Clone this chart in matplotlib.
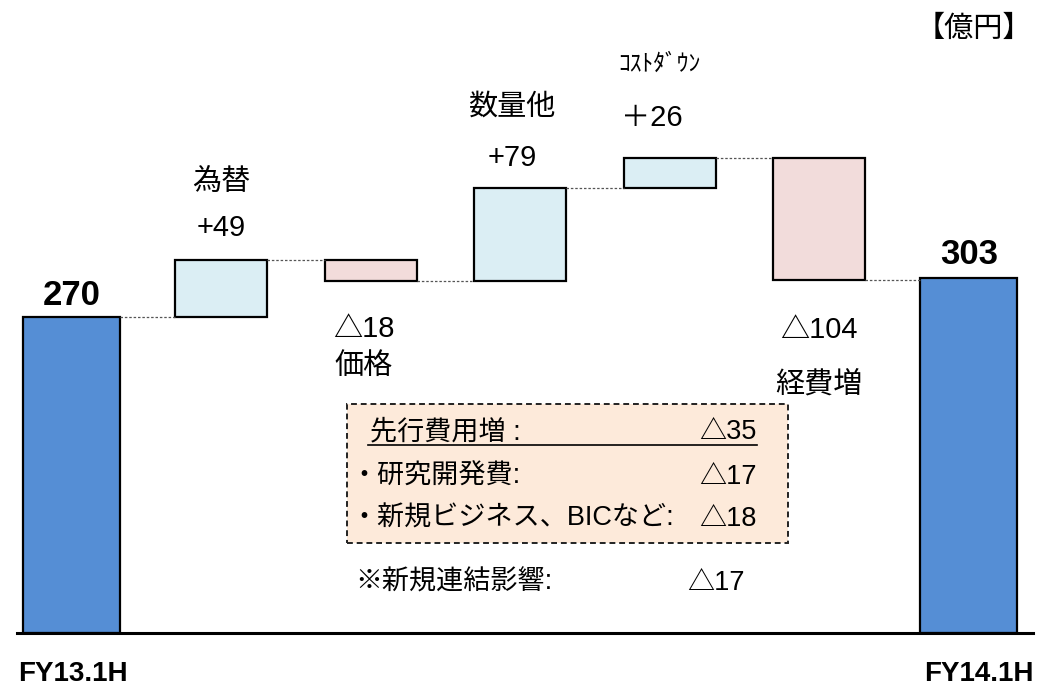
import matplotlib.pyplot as plt
from matplotlib.patches import Rectangle
from matplotlib.lines import Line2D

plt.rcParams['font.family'] = ['Liberation Sans', 'Noto Sans CJK JP', 'DejaVu Sans']

# waterfall data (億円)
categories = ['FY13.1H', '為替', '価格', '数量他', 'ｺｽﾄﾀﾞｳﾝ', '経費増', 'FY14.1H']
deltas = [270, 49, -18, 79, 26, -104, 303]
value_labels = ['270', '+49', '△18', '+79', '＋26', '△104', '303']

# breakdown box
box_rows = ['先行費用増 :', '・研究開発費:', '・新規ビジネス、BICなど:']
box_values = ['△35', '△17', '△18']
note_label = '※新規連結影響:'
note_value = '△17'

W, H = 1039, 694
fig = plt.figure(figsize=(W / 100, H / 100), dpi=100)
ax = fig.add_axes([17 / W, 61 / H, 1016 / W, 633 / H])
ax.set_xlim(-0.365, 6.43)
ax.set_ylim(0, 541)

# compute bar bottoms/tops
bottoms, tops = [], []
level = 0
for i, d in enumerate(deltas):
    if i == 0 or i == len(deltas) - 1:
        b, t = 0, d
        level = d
    else:
        b, t = min(level, level + d), max(level, level + d)
        level = level + d
    bottoms.append(b)
    tops.append(t)

for i, d in enumerate(deltas):
    if i == 0 or i == len(deltas) - 1:
        color, width = '#558ED5', 0.65
    elif d > 0:
        color, width = '#DBEEF4', 0.615
    else:
        color, width = '#F2DCDB', 0.615
    ax.bar(i, tops[i] - bottoms[i], bottom=bottoms[i], width=width,
           color=color, edgecolor='black', linewidth=1.6)

# connectors
level = 0
widths = [0.65] + [0.615] * 5 + [0.65]
for i in range(len(deltas) - 1):
    level = deltas[0] if i == 0 else level + deltas[i]
    ax.plot([i + widths[i] / 2, i + 1 - widths[i + 1] / 2], [level, level],
            color='#555555', linestyle=(0, (2, 1.5)), linewidth=0.9)

# labels
val_off = [22, 32, -48, 30, 40, -50, 24]
name_off = [None, 78, -85, 82, 93, -105, None]
x_shift = [0, 0, -7, -8, -10, 0, 0]
val_x_shift = [0, 0, -7, -8, -18, 0, 0]
name_size = [None, 21, 21, 21, 17, 21, None]
for i, d in enumerate(deltas):
    if i == 0 or i == len(deltas) - 1:
        ax.annotate(value_labels[i], (i, tops[i]), xytext=(0, val_off[i]),
                    textcoords='offset pixels', ha='center', va='center',
                    fontsize=25, fontweight='bold')
        continue
    anchor = tops[i] if d > 0 else bottoms[i]
    ax.annotate(value_labels[i], (i, anchor), xytext=(val_x_shift[i], val_off[i]),
                textcoords='offset pixels', ha='center', va='center', fontsize=21)
    ax.annotate(categories[i], (i, anchor), xytext=(x_shift[i], name_off[i]),
                textcoords='offset pixels', ha='center', va='center',
                fontsize=name_size[i])

# x labels under end bars
ax.text(0.01, -35, categories[0], ha='center', va='center', fontsize=20, fontweight='bold')
ax.text(6.07, -35, categories[-1], ha='center', va='center', fontsize=20, fontweight='bold')

# unit
fig.text(1032 / W, 1 - 29 / H, '【億円】', ha='right', va='center', fontsize=21)

# axes styling
for s in ['top', 'right', 'left']:
    ax.spines[s].set_visible(False)
ax.spines['bottom'].set_linewidth(2.2)
ax.set_xticks([])
ax.set_yticks([])
ax.patch.set_alpha(0)

# breakdown box
fig.patches.append(Rectangle((347 / W, 1 - 543 / H), 441 / W, 139 / H,
                             transform=fig.transFigure, facecolor='#FDEADA',
                             edgecolor='#222222', linestyle=(0, (3, 2)),
                             linewidth=1.4, zorder=0))
row_y = [432, 477, 519]
row_x = [370, 350, 350]
for y, x, lab, val in zip(row_y, row_x, box_rows, box_values):
    fig.text(x / W, 1 - y / H, lab, ha='left', va='center', fontsize=19.5)
    fig.text(757 / W, 1 - y / H, val, ha='right', va='center', fontsize=19.5)
fig.lines.append(Line2D([368 / W, 757 / W], [1 - 445 / H, 1 - 445 / H],
                        transform=fig.transFigure, color='black', linewidth=1.2))
fig.text(355 / W, 1 - 583 / H, note_label, ha='left', va='center', fontsize=19.5)
fig.text(745 / W, 1 - 583 / H, note_value, ha='right', va='center', fontsize=19.5)

fig.savefig('out.png', dpi=100)
